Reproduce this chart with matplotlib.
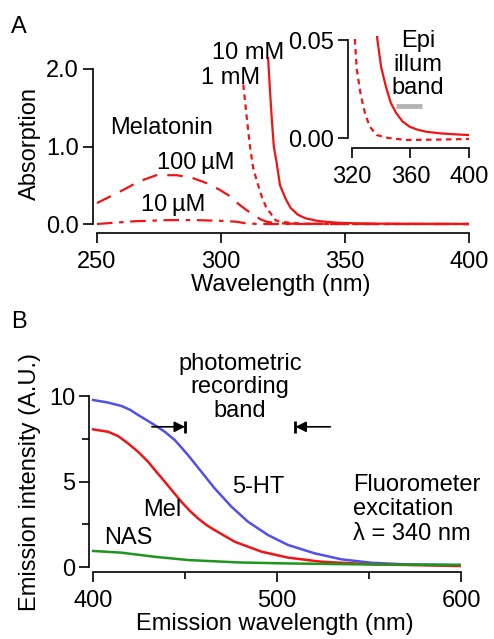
import matplotlib
matplotlib.use("Agg")
import matplotlib.pyplot as plt

plt.rcParams["font.family"] = ["Liberation Sans", "DejaVu Sans"]
plt.rcParams["font.size"] = 17

RED = "#f01414"
BLUE = "#5050f0"
GREEN = "#1e961e"

# --- panel A: melatonin absorption ---
wl_10mM = [319.0, 319.8, 320.5, 321.3, 322.4, 323.8, 326.0, 328.0, 331.0, 334.0, 337.4,
           340.0, 343.3, 346.5, 350.2, 354.5, 359.3, 365.0, 370.7, 380.0, 390.0, 400.0]
abs_10mM = [2.14, 1.7, 1.35, 1.0, 0.8, 0.5, 0.33, 0.21, 0.12, 0.075, 0.05,
            0.036, 0.026, 0.018, 0.0128, 0.0085, 0.0058, 0.0042, 0.0032, 0.0024, 0.0019, 0.0015]

wl_1mM = [309.0, 310.3, 311.7, 313.0, 314.8, 316.5, 318.4, 320.0, 321.0, 322.0, 323.3,
          326.0, 328.9, 332.0, 336.9, 345.0, 357.0, 380.0, 400.0]
abs_1mM = [1.8, 1.4, 1.0, 0.72, 0.52, 0.35, 0.2, 0.14, 0.09, 0.05, 0.035,
           0.022, 0.0128, 0.006, 0.0015, 0.0, -0.001, -0.0008, -0.0005]

wl_100uM = [250, 255, 260.6, 267, 274, 282, 288, 294, 299, 303.6, 307, 310.3, 313, 316,
            318.4, 322, 330, 400]
abs_100uM = [0.27, 0.35, 0.44, 0.55, 0.63, 0.63, 0.6, 0.53, 0.45, 0.36, 0.26, 0.18, 0.12, 0.06,
             0.03, 0.01, 0.003, 0.0]

wl_10uM = [250, 265, 278, 290, 301, 306, 310, 315, 400]
abs_10uM = [0.0, 0.035, 0.05, 0.05, 0.04, 0.03, 0.01, 0.0, 0.0]

epi_band = [350, 368]

# --- panel B: emission spectra ---
em_ht_wl = [400, 408, 415.4, 420, 424.5, 429, 433.5, 439, 444.4, 451.6, 458.9, 466.1, 475.2,
            484.2, 495.1, 506, 520.5, 535, 551.3, 569.4, 599.3]
em_ht = [9.77, 9.62, 9.42, 9.2, 8.89, 8.6, 8.3, 7.91, 7.43, 6.55, 5.57, 4.6, 3.53,
         2.65, 1.87, 1.29, 0.8, 0.45, 0.25, 0.16, 0.12]

em_mel_wl = [400, 408.2, 413.6, 419, 424.5, 429.9, 434.4, 439, 443.5, 448, 452.5, 457,
             461.6, 466.1, 477, 491.5, 506, 524, 551.3, 599.3]
em_mel = [8.05, 7.91, 7.66, 7.23, 6.74, 6.16, 5.57, 4.99, 4.4, 3.82, 3.3, 2.85,
          2.46, 2.16, 1.48, 0.9, 0.55, 0.31, 0.16, 0.06]

em_nas_wl = [400, 415.4, 433.5, 451.6, 478.8, 506, 542, 599.3]
em_nas = [0.94, 0.84, 0.6, 0.41, 0.27, 0.21, 0.16, 0.12]

rec_band = [450, 510]
arrow_y = 8.2


def style(ax, xb, yb):
    for s in ("top", "right"):
        ax.spines[s].set_visible(False)
    ax.spines["left"].set_bounds(*yb)
    ax.spines["bottom"].set_bounds(*xb)
    for s in ("left", "bottom"):
        ax.spines[s].set_linewidth(1.2)
    ax.tick_params(which="major", direction="out", length=7, width=1.2, pad=3)
    ax.tick_params(which="minor", direction="out", length=5, width=1.2)
    ax.tick_params(axis="x", pad=6)
    ax.set_facecolor("none")


fig = plt.figure(figsize=(4.94, 6.39), dpi=100)

# panel A
axA = fig.add_axes([0.18826, 0.63537, 0.76113, 0.28091])
axA.plot(wl_10mM, abs_10mM, color=RED, lw=1.6)
axA.plot(wl_1mM, abs_1mM, color=RED, lw=1.6, dashes=(2.5, 2))
axA.plot(wl_100uM, abs_100uM, color=RED, lw=1.6, dashes=(7, 4.5))
axA.plot(wl_10uM, abs_10uM, color=RED, lw=1.6, dashes=(7, 3, 2, 3))
axA.set_xlim(248.4, 400)
axA.set_ylim(-0.116, 2.2)
axA.set_xticks([250, 300, 350, 400])
axA.set_yticks([0, 1, 2])
axA.set_yticklabels(["0.0", "1.0", "2.0"])
style(axA, (250, 400), (0, 2))
axA.set_xlabel("Wavelength (nm)", labelpad=1)
axA.set_ylabel("Absorption", labelpad=4)
axA.text(276.2, 1.24, "Melatonin", ha="center", va="center")
axA.text(289.9, 0.787, "100\u2009µM", ha="center", va="center")
axA.text(280.6, 0.245, "10\u2009µM", ha="center", va="center")
axA.text(310.9, 2.21, "10 mM", ha="center", va="center")
axA.text(304.0, 1.88, "1 mM", ha="center", va="center")

# inset
axI = fig.add_axes([0.70445, 0.76839, 0.24494, 0.17512])
axI.plot(wl_10mM, abs_10mM, color=RED, lw=1.6)
axI.plot(wl_1mM, abs_1mM, color=RED, lw=1.6, dashes=(2.5, 2))
axI.plot(epi_band, [0.0165, 0.0165], color="#b4b4b4", lw=3.5, solid_capstyle="butt")
axI.set_xlim(317.3, 400)
axI.set_ylim(-0.0051, 0.052)
axI.set_xticks([320, 360, 400])
axI.set_yticks([0, 0.05])
axI.set_yticklabels(["0.00", "0.05"])
style(axI, (320, 400), (0, 0.05))
axI.text(365.1, 0.0375, "Epi\nillum\nband", ha="center", va="center", linespacing=1.08)

# panel B
axB = fig.add_axes([0.18016, 0.10485, 0.75304, 0.28075])
axB.plot(em_ht_wl, em_ht, color=BLUE, lw=1.8)
axB.plot(em_mel_wl, em_mel, color=RED, lw=1.8)
axB.plot(em_nas_wl, em_nas, color=GREEN, lw=1.8)
axB.set_xlim(397.8, 600)
axB.set_ylim(-0.29, 10.2)
axB.set_xticks([400, 500, 600])
axB.set_xticks([450, 550], minor=True)
axB.set_yticks([0, 5, 10])
axB.set_yticks([2.5, 7.5], minor=True)
style(axB, (400, 600), (0, 10))
axB.set_xlabel("Emission wavelength (nm)", labelpad=1)
axB.set_ylabel("Emission intensity (A.U.)", labelpad=6)

arrow_kw = dict(arrowstyle="-|>", color="k", lw=1.2, mutation_scale=16, shrinkA=0, shrinkB=0)
axB.annotate("", xy=(rec_band[0], arrow_y), xytext=(rec_band[0] - 18, arrow_y), arrowprops=arrow_kw)
axB.annotate("", xy=(rec_band[1], arrow_y), xytext=(rec_band[1] + 19, arrow_y), arrowprops=arrow_kw)
axB.plot(rec_band, [arrow_y, arrow_y], ls="none", marker="|", ms=9, mew=2, color="k")

axB.text(479.9, 10.5, "photometric\nrecording\nband", ha="center", va="center", linespacing=1.08)
axB.text(489.7, 4.68, "5-HT", ha="center", va="center")
axB.text(437.5, 3.33, "Mel", ha="center", va="center")
axB.text(419.0, 1.7, "NAS", ha="center", va="center")
axB.text(541.3, 3.39, "Fluorometer\nexcitation\nλ = 340 nm", ha="left", va="center", linespacing=1.15)

fig.text(19 / 494, 1 - 27 / 639, "A", ha="center", va="center")
fig.text(19 / 494, 1 - 322 / 639, "B", ha="center", va="center")

fig.savefig("out.png", dpi=100)
